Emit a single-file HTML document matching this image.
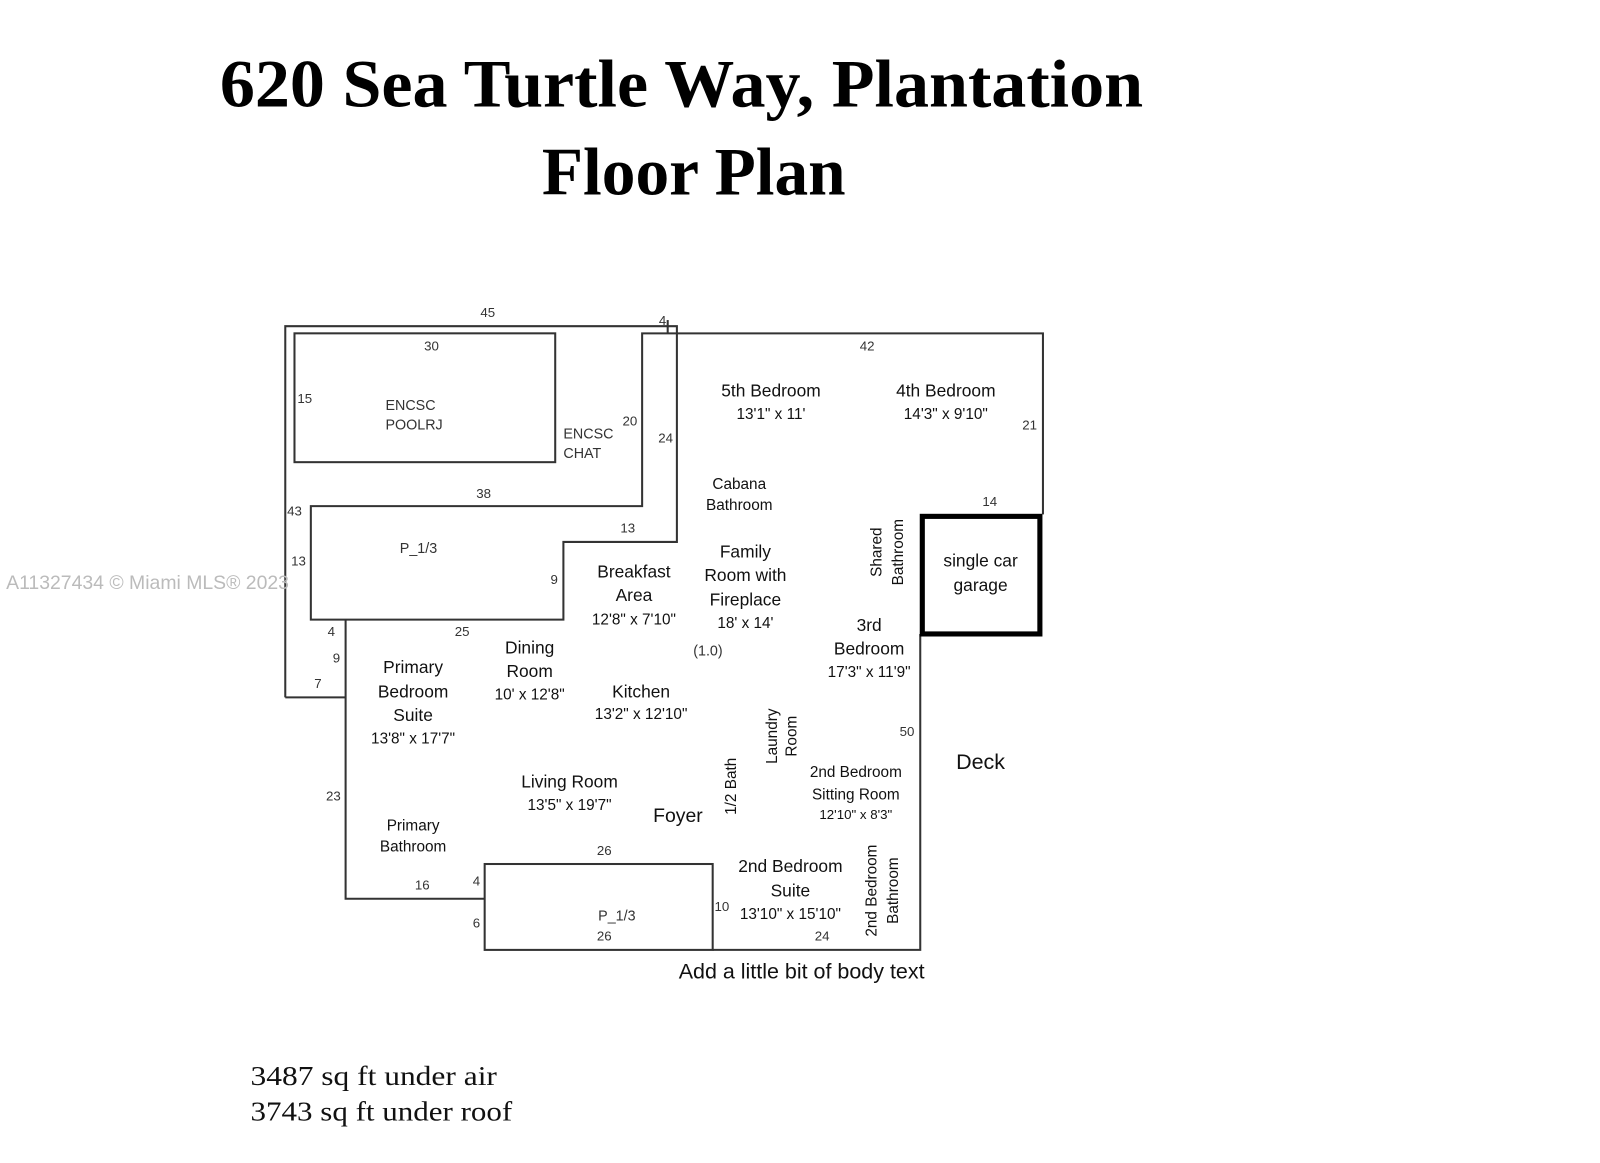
<!DOCTYPE html>
<html><head><style>html,body{margin:0;padding:0;background:#fff}svg{display:block}</style></head>
<body>
<svg width="1600" height="1163" viewBox="0 0 1600 1163" xmlns="http://www.w3.org/2000/svg">
<rect width="1600" height="1163" fill="#fff"/>
<g transform="scale(1.0225)">
<g font-family="Liberation Serif, serif" font-weight="bold" fill="#000">
<text x="215" y="104" font-size="66" textLength="903" lengthAdjust="spacingAndGlyphs">620 Sea Turtle Way, Plantation</text>
<text x="530" y="190" font-size="66" textLength="297" lengthAdjust="spacingAndGlyphs">Floor Plan</text>
</g>
<g fill="none" stroke="#333" stroke-width="2">
<polyline points="279,682 279,319 662,319 662,530 551,530 551,606 304,606 304,495 628,495 628,326 1020,326 1020,503"/>
<polyline points="279,682 338,682"/>
<polyline points="338,606 338,879 474,879"/>
<rect x="288" y="326" width="255" height="126"/>
<rect x="474" y="845" width="223" height="84"/>
<polyline points="697,929 900,929 900,620"/>
<line x1="653" y1="313" x2="653" y2="326"/>
</g>
<rect x="902" y="505" width="115" height="115" fill="none" stroke="#000" stroke-width="5"/>
<g font-family="Liberation Sans, sans-serif" font-size="13" fill="#333" text-anchor="middle">
<text x="477" y="310">45</text><text x="648" y="318">4</text>
<text x="422" y="343">30</text><text x="298" y="394">15</text>
<text x="616" y="416">20</text><text x="651" y="433">24</text>
<text x="848" y="343">42</text><text x="1007" y="420">21</text>
<text x="968" y="495">14</text>
<text x="473" y="487">38</text><text x="288" y="504">43</text>
<text x="614" y="521">13</text><text x="292" y="553">13</text>
<text x="542" y="571">9</text><text x="324" y="622">4</text>
<text x="452" y="622">25</text><text x="329" y="648">9</text>
<text x="311" y="673">7</text><text x="326" y="783">23</text>
<text x="887" y="720">50</text>
<text x="413" y="870">16</text><text x="466" y="866">4</text>
<text x="466" y="907">6</text><text x="591" y="836">26</text>
<text x="591" y="920">26</text><text x="706" y="891">10</text>
<text x="804" y="920">24</text>
</g>
<g font-family="Liberation Sans, sans-serif" font-size="14" fill="#333">
<text x="377" y="401">ENCSC</text><text x="377" y="420">POOLRJ</text>
<text x="551" y="429">ENCSC</text><text x="551" y="448">CHAT</text>
<text x="391" y="541">P_1/3</text><text x="585" y="900">P_1/3</text>
<text x="678" y="641">(1.0)</text>
</g>
<g font-family="Liberation Sans, sans-serif" font-size="17" fill="#111" text-anchor="middle">
<text x="754" y="388">5th Bedroom</text>
<text x="925" y="388">4th Bedroom</text>
<text x="620" y="565">Breakfast</text><text x="620" y="588">Area</text>
<text x="729" y="545">Family</text><text x="729" y="568">Room with</text><text x="729" y="592">Fireplace</text>
<text x="850" y="617">3rd</text><text x="850" y="640">Bedroom</text>
<text x="959" y="554">single car</text><text x="959" y="578">garage</text>
<text x="518" y="639">Dining</text><text x="518" y="662">Room</text>
<text x="627" y="682">Kitchen</text>
<text x="404" y="658">Primary</text><text x="404" y="682">Bedroom</text><text x="404" y="705">Suite</text>
<text x="557" y="770">Living Room</text>
<text x="663" y="804" font-size="19">Foyer</text>
<text x="773" y="853">2nd Bedroom</text><text x="773" y="877">Suite</text>
<text x="959" y="752" font-size="21">Deck</text>
<text x="784" y="957" font-size="21">Add a little bit of body text</text>
</g>
<g font-family="Liberation Sans, sans-serif" font-size="15" fill="#111" text-anchor="middle">
<text x="754" y="410">13'1" x 11'</text>
<text x="925" y="410">14'3" x 9'10"</text>
<text x="723" y="478">Cabana</text><text x="723" y="499">Bathroom</text>
<text x="620" y="611">12'8" x 7'10"</text>
<text x="729" y="614">18' x 14'</text>
<text x="850" y="662">17'3" x 11'9"</text>
<text x="518" y="684">10' x 12'8"</text>
<text x="627" y="703">13'2" x 12'10"</text>
<text x="404" y="727">13'8" x 17'7"</text>
<text x="557" y="792">13'5" x 19'7"</text>
<text x="404" y="812">Primary</text><text x="404" y="833">Bathroom</text>
<text x="837" y="760">2nd Bedroom</text><text x="837" y="782">Sitting Room</text>
<text x="837" y="801" font-size="13">12'10" x 8'3"</text>
<text x="773" y="899">13'10" x 15'10"</text>
<text transform="translate(862,540) rotate(-90)">Shared</text>
<text transform="translate(883,540) rotate(-90)">Bathroom</text>
<text transform="translate(760,720) rotate(-90)">Laundry</text>
<text transform="translate(779,720) rotate(-90)">Room</text>
<text transform="translate(720,769) rotate(-90)">1/2 Bath</text>
<text transform="translate(857,871) rotate(-90)">2nd Bedroom</text>
<text transform="translate(878,871) rotate(-90)">Bathroom</text>
</g>
<text x="6" y="576" font-family="Liberation Sans, sans-serif" font-size="19" fill="#bbb">A11327434 © Miami MLS® 2023</text>
<g font-family="Liberation Serif, serif" font-size="27" fill="#111">
<text x="245" y="1061" textLength="241" lengthAdjust="spacingAndGlyphs">3487 sq ft under air</text>
<text x="245" y="1096" textLength="256" lengthAdjust="spacingAndGlyphs">3743 sq ft under roof</text>
</g>
</g>
</svg>
</body></html>
